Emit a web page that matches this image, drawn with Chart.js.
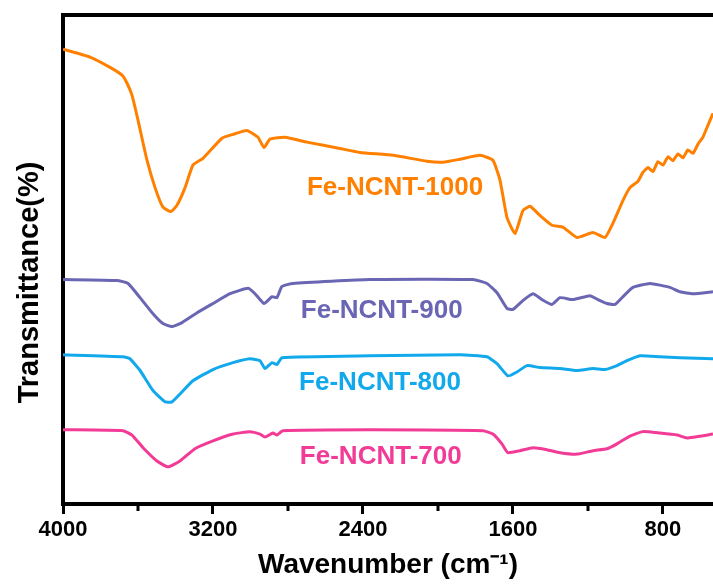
<!DOCTYPE html>
<html>
<head>
<meta charset="utf-8">
<script src="https://cdn.jsdelivr.net/npm/chart.js@4.4.0/dist/chart.umd.min.js"></script>
<style>
  html, body { margin: 0; padding: 0; background: #fff; }
</style>
</head>
<body>
<canvas id="ftirChart" width="713" height="585"></canvas>
<script>
// wavenumbers (cm-1) and offset transmittance (a.u.)
const wn1000 = [4000, 3856, 3749, 3685, 3659, 3632, 3600, 3552, 3509, 3467, 3424, 3392, 3349, 3307, 3253, 3152, 3093, 3019, 2960, 2928, 2896, 2816, 2699, 2523, 2416, 2240, 2059, 1973, 1883, 1776, 1707, 1669, 1632, 1589, 1547, 1509, 1456, 1392, 1333, 1259, 1173, 1109, 1067, 1013, 976, 933, 907, 880, 853, 827, 800, 773, 747, 720, 693, 667, 640, 613, 587, 565, 533];
const t1000 = [93.0, 91.4, 89.3, 87.7, 86.1, 83.6, 78.5, 70.3, 64.7, 60.7, 59.8, 61.1, 64.7, 69.3, 70.7, 74.8, 75.6, 76.4, 75.0, 72.9, 74.6, 75.0, 74.0, 72.7, 71.9, 71.3, 70.1, 69.9, 70.5, 71.3, 70.3, 66.2, 58.6, 55.3, 60.0, 60.9, 59.0, 57.0, 56.6, 54.5, 55.5, 54.5, 57.4, 62.1, 64.7, 66.0, 67.8, 68.8, 68.0, 70.0, 69.3, 71.0, 70.2, 71.6, 70.8, 72.4, 71.7, 73.6, 75.0, 77.0, 79.9];

const wn900 = [4000, 3712, 3653, 3589, 3520, 3467, 3419, 3365, 3285, 3200, 3109, 3013, 2976, 2928, 2885, 2859, 2832, 2773, 2363, 1813, 1739, 1685, 1632, 1600, 1547, 1493, 1445, 1392, 1349, 1280, 1189, 1147, 1099, 1056, 1013, 960, 869, 763, 709, 640, 533];
const t900 = [45.9, 45.7, 45.1, 42.2, 38.9, 36.9, 36.3, 37.1, 39.1, 41.0, 43.0, 44.1, 43.0, 41.0, 42.4, 42.2, 44.5, 45.1, 45.9, 45.9, 45.1, 43.2, 40.0, 39.8, 41.6, 43.0, 41.8, 40.8, 42.2, 41.8, 42.6, 41.8, 41.0, 40.8, 42.4, 44.3, 45.1, 44.3, 43.4, 43.0, 43.4];

const wn800 = [4000, 3680, 3643, 3589, 3520, 3456, 3419, 3376, 3307, 3200, 3093, 3003, 2949, 2923, 2885, 2859, 2832, 2363, 1883, 1739, 1685, 1627, 1579, 1525, 1456, 1349, 1259, 1173, 1109, 1045, 992, 923, 816, 709, 533];
const t800 = [30.5, 30.1, 29.7, 27.3, 23.2, 20.9, 20.9, 22.5, 25.2, 27.5, 28.9, 29.7, 29.3, 27.7, 28.9, 28.5, 29.9, 30.3, 30.5, 30.1, 28.7, 26.2, 27.0, 28.3, 27.9, 27.7, 27.3, 27.7, 27.5, 28.3, 29.3, 30.3, 30.1, 29.9, 29.7];

const wn700 = [4000, 3680, 3632, 3573, 3499, 3440, 3376, 3296, 3200, 3093, 3003, 2949, 2923, 2880, 2859, 2827, 2363, 1760, 1707, 1659, 1627, 1563, 1493, 1419, 1349, 1259, 1173, 1099, 1045, 976, 907, 816, 725, 672, 533];
const t700 = [15.2, 15.0, 14.1, 11.5, 8.8, 7.6, 8.8, 11.3, 12.9, 14.3, 14.8, 14.3, 13.7, 14.5, 14.1, 15.0, 15.2, 15.0, 14.3, 12.3, 10.5, 10.9, 11.5, 11.1, 10.5, 10.2, 10.9, 11.3, 12.3, 13.9, 14.8, 14.5, 14.1, 13.5, 14.3];

const seriesNames = ['Fe-NCNT-1000', 'Fe-NCNT-900', 'Fe-NCNT-800', 'Fe-NCNT-700'];
const seriesColors = ['#ff8000', '#6a66b4', '#12a9ec', '#f23b96'];
// where each name sits on the plot (wavenumber, transmittance)
const labelWn = [2229, 2300, 2309, 2305];
const labelT = [64.7, 39.5, 24.8, 9.6];

const majorTicks = [4000, 3200, 2400, 1600, 800];
const minorTicks = [3600, 2800, 2000, 1200];

function toPoints(xs, ys) {
  return xs.map((x, i) => ({ x: x, y: ys[i] }));
}

const boldFont = "'Liberation Sans', Arial, Helvetica, sans-serif";

const extras = {
  id: 'extras',
  afterDatasetsDraw(chart) {
    const ctx = chart.ctx;
    const xs = chart.scales.x, ys = chart.scales.y;
    ctx.save();
    ctx.font = 'bold 26px ' + boldFont;
    ctx.textAlign = 'center';
    ctx.textBaseline = 'middle';
    seriesNames.forEach((name, i) => {
      ctx.fillStyle = seriesColors[i];
      ctx.fillText(name, xs.getPixelForValue(labelWn[i]), ys.getPixelForValue(labelT[i]));
    });
    ctx.restore();
  },
  afterDraw(chart) {
    const ctx = chart.ctx;
    const xs = chart.scales.x;
    const area = chart.chartArea;
    ctx.save();
    // minor ticks
    ctx.strokeStyle = '#000';
    ctx.lineWidth = 3;
    minorTicks.forEach(v => {
      const px = Math.round(xs.getPixelForValue(v));
      ctx.beginPath();
      ctx.moveTo(px, area.bottom);
      ctx.lineTo(px, area.bottom + 7);
      ctx.stroke();
    });
    // y title
    ctx.fillStyle = '#000';
    ctx.font = 'bold 29px ' + boldFont;
    ctx.textAlign = 'center';
    ctx.textBaseline = 'middle';
    ctx.translate(area.left - 33, (area.top + area.bottom) / 2 + 23);
    ctx.rotate(-Math.PI / 2);
    ctx.fillText('Transmittance(%)', 0, 0);
    ctx.restore();
  }
};

const dataSets = [
  [wn1000, t1000], [wn900, t900], [wn800, t800], [wn700, t700]
].map((s, i) => ({
  label: seriesNames[i],
  data: toPoints(s[0], s[1]),
  borderColor: seriesColors[i],
  borderWidth: 3,
  pointRadius: 0,
  tension: 0.15,
  fill: false
}));

new Chart(document.getElementById('ftirChart'), {
  type: 'line',
  data: { datasets: dataSets },
  options: {
    responsive: false,
    animation: false,
    devicePixelRatio: 1,
    layout: { padding: { left: 63, top: 15, right: 0, bottom: 3 } },
    plugins: { legend: { display: false }, tooltip: { enabled: false } },
    scales: {
      x: {
        type: 'linear',
        position: 'bottom',
        reverse: true,
        min: 533,
        max: 4000,
        afterBuildTicks(scale) {
          scale.ticks = majorTicks.map(v => ({ value: v }));
        },
        ticks: {
          color: '#000',
          font: { family: boldFont, size: 22, weight: 'bold' },
          padding: 3,
          maxRotation: 0,
          callback: v => String(v)
        },
        grid: { drawOnChartArea: false, drawTicks: true, tickLength: 10, tickWidth: 3, tickColor: '#000' },
        border: { display: true, width: 4, color: '#000' },
        title: {
          display: true,
          text: 'Wavenumber (cm\u207B\u00B9)',
          color: '#000',
          font: { family: boldFont, size: 28, weight: 'bold' },
          padding: { top: 2, bottom: 0 }
        }
      },
      xTop: {
        type: 'linear',
        position: 'top',
        reverse: true,
        min: 533,
        max: 4000,
        ticks: { display: false },
        grid: { display: false, drawTicks: false },
        border: { display: true, width: 4, color: '#000' }
      },
      y: {
        min: 0,
        max: 100,
        ticks: { display: false },
        grid: { display: false, drawTicks: false },
        border: { display: true, width: 4, color: '#000' }
      }
    }
  },
  plugins: [extras]
});
</script>
</body>
</html>
